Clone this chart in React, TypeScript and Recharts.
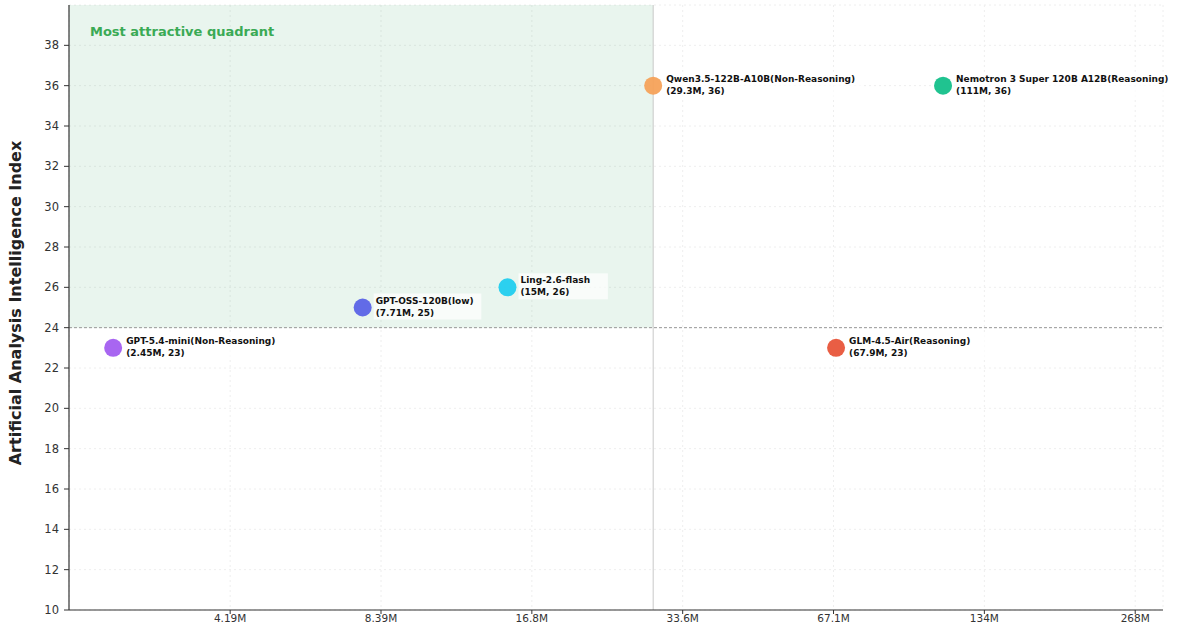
import React from "react";
import {
  ScatterChart,
  Scatter,
  XAxis,
  YAxis,
  CartesianGrid,
  ReferenceArea,
  ReferenceLine,
} from "recharts";

// values
const modelNames = [
  "GPT-5.4-mini(Non-Reasoning)",
  "GPT-OSS-120B(low)",
  "Ling-2.6-flash",
  "Qwen3.5-122B-A10B(Non-Reasoning)",
  "Nemotron 3 Super 120B A12B(Reasoning)",
  "GLM-4.5-Air(Reasoning)",
];
const tokensM = [2.45, 7.71, 15, 29.3, 111, 67.9];
const tokenLabels = ["2.45M", "7.71M", "15M", "29.3M", "111M", "67.9M"];
const intelligence = [23, 25, 26, 36, 36, 23];
const dotColors = ["#a35ef0", "#5b63e6", "#22cdee", "#f6a25a", "#14c08a", "#e8553a"];

const xTicks = [4194304, 8388608, 16777216, 33554432, 67108864, 134217728, 268435456];
const xTickLabels = ["4.19M", "8.39M", "16.8M", "33.6M", "67.1M", "134M", "268M"];
const yTicks = [10, 12, 14, 16, 18, 20, 22, 24, 26, 28, 30, 32, 34, 36, 38];

const xThreshold = 29.3e6;
const yThreshold = 24;
const xDomain = [2.0e6, 305e6];
const yDomain = [10, 40];

const FONT = "'DejaVu Sans', Verdana, sans-serif";

const points = modelNames.map((name, i) => ({
  name,
  x: tokensM[i] * 1e6,
  y: intelligence[i],
  color: dotColors[i],
  sub: `(${tokenLabels[i]}, ${intelligence[i]})`,
}));

const PointShape = (props: any) => {
  const { cx, cy, payload } = props;
  const w = Math.max(payload.name.length, payload.sub.length) * 6.1 + 4;
  return (
    <g>
      <circle cx={cx} cy={cy} r={9} fill={payload.color} fillOpacity={0.95} />
      <rect x={cx + 11} y={cy - 14} width={w} height={26} fill="#fff" fillOpacity={0.7} />
      <text x={cx + 13} y={cy - 4} fontSize={9} fontWeight="bold" fill="#111" fontFamily={FONT}>
        {payload.name}
      </text>
      <text x={cx + 13} y={cy + 8} fontSize={9} fontWeight="bold" fill="#111" fontFamily={FONT}>
        {payload.sub}
      </text>
    </g>
  );
};

export default function App() {
  return (
    <div style={{ position: "absolute", left: 0, top: 0, width: 1200, height: 629, background: "#fff" }}>
      <ScatterChart
        width={1200}
        height={629}
        margin={{ top: 5, right: 37, bottom: 0, left: 0 }}
      >
        <ReferenceArea
          x1={xDomain[0]}
          x2={xThreshold}
          y1={yThreshold}
          y2={yDomain[1]}
          fill="#2ca05a"
          fillOpacity={0.1}
          stroke="none"
          label={{
            content: ({ viewBox }: any) => (
              <text
                x={viewBox.x + 21}
                y={viewBox.y + 31}
                fontSize={13}
                fontWeight="bold"
                fill="#3aaa55"
                fontFamily={FONT}
              >
                Most attractive quadrant
              </text>
            ),
          }}
        />
        <CartesianGrid stroke="#eeeeee" strokeDasharray="2 3" />
        <XAxis
          type="number"
          dataKey="x"
          scale="log"
          domain={xDomain}
          ticks={xTicks}
          tickFormatter={(v: number) => xTickLabels[xTicks.indexOf(v)]}
          height={19}
          tickSize={4}
          tickMargin={1}
          axisLine={{ stroke: "#333", strokeWidth: 1.2 }}
          tickLine={{ stroke: "#333" }}
          tick={{ fill: "#333", fontSize: 10.5, fontFamily: FONT }}
        />
        <YAxis
          type="number"
          dataKey="y"
          domain={yDomain}
          ticks={yTicks}
          width={69}
          tickSize={5}
          tickMargin={5}
          axisLine={{ stroke: "#333", strokeWidth: 1.2 }}
          tickLine={{ stroke: "#333" }}
          tick={{ fill: "#333", fontSize: 11.5, fontFamily: FONT }}
          label={{
            content: () => (
              <text
                x={15}
                y={303}
                transform="rotate(-90 15 303)"
                textAnchor="middle"
                dominantBaseline="central"
                fontSize={16}
                fontWeight="bold"
                fill="#222"
                fontFamily={FONT}
              >
                Artificial Analysis Intelligence Index
              </text>
            ),
          }}
        />
        <ReferenceLine y={yThreshold} stroke="#999" strokeDasharray="3 2" />
        <ReferenceLine x={xThreshold} stroke="#c8c8c8" />
        <Scatter data={points} shape={<PointShape />} isAnimationActive={false} />
      </ScatterChart>
    </div>
  );
}
